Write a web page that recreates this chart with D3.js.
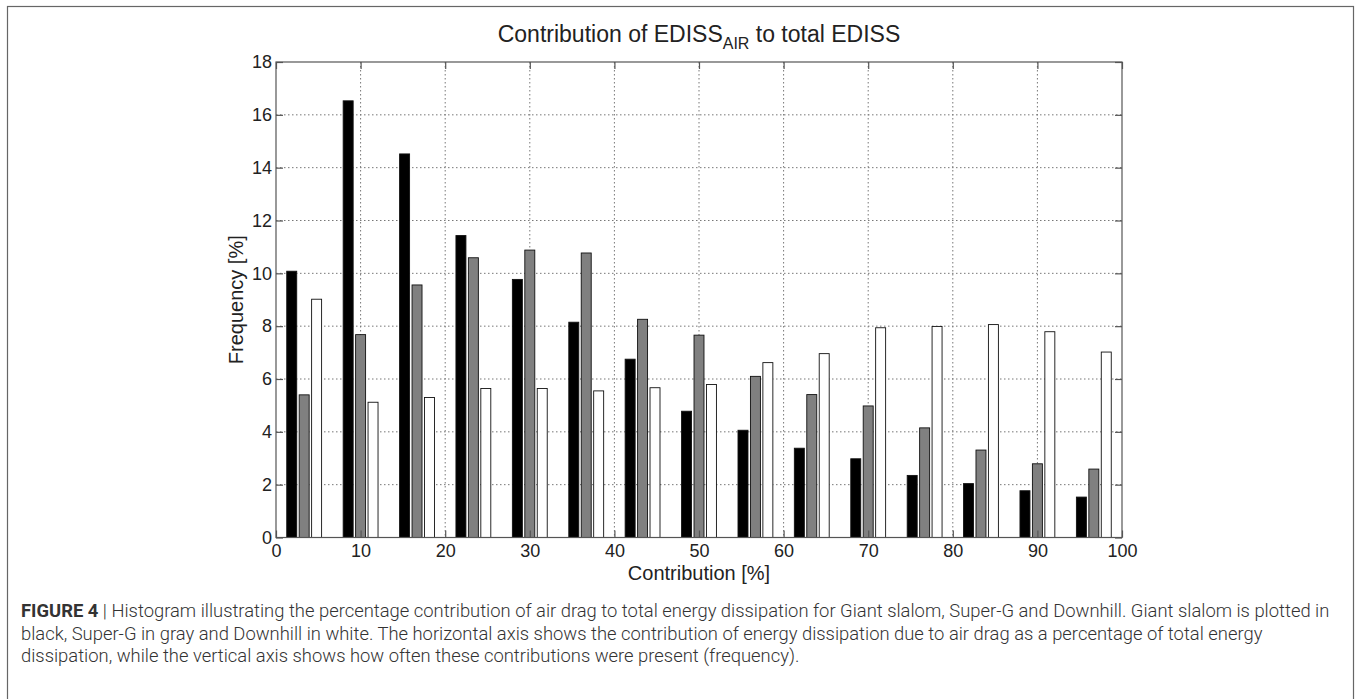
<!DOCTYPE html>
<html>
<head>
<meta charset="utf-8">
<script src="https://cdn.jsdelivr.net/npm/d3@7"></script>
<style>
    html, body { margin: 0; padding: 0; background: #fff; }
    svg { display: block; }
    .axis-text { font-family: "Liberation Sans", Arial, sans-serif; fill: #222; }
    .caption { font-family: Roboto, "Liberation Sans", sans-serif; font-weight: 300; fill: #333; font-size: 18.4px; }
</style>
</head>
<body>
<div id="chart"></div>
<script>
// Histogram: contribution of air drag to total energy dissipation
(function () {
    // ── Data ───────────────────────────────────────────────────────────────
    const binCenters = [3.33, 10, 16.67, 23.33, 30, 36.67, 43.33, 50, 56.67, 63.33, 70, 76.67, 83.33, 90, 96.67];
    const giantSlalom = [10.08, 16.53, 14.52, 11.43, 9.77, 8.15, 6.75, 4.78, 4.06, 3.38, 2.98, 2.35, 2.04, 1.77, 1.53];
    const superG      = [5.40, 7.68, 9.56, 10.59, 10.88, 10.77, 8.26, 7.66, 6.10, 5.41, 4.98, 4.15, 3.31, 2.79, 2.59];
    const downhill    = [9.02, 5.12, 5.30, 5.64, 5.64, 5.55, 5.67, 5.79, 6.62, 6.96, 7.94, 7.99, 8.06, 7.79, 7.02];
    const seriesNames = ["Giant slalom", "Super-G", "Downhill"];
    const xTicks = [0, 10, 20, 30, 40, 50, 60, 70, 80, 90, 100];
    const yTicks = [0, 2, 4, 6, 8, 10, 12, 14, 16, 18];
    const captionLines = [
        "Histogram illustrating the percentage contribution of air drag to total energy dissipation for Giant slalom, Super-G and Downhill. Giant slalom is plotted in",
        "black, Super-G in gray and Downhill in white. The horizontal axis shows the contribution of energy dissipation due to air drag as a percentage of total energy",
        "dissipation, while the vertical axis shows how often these contributions were present (frequency)."
    ];

    // ── Layout ─────────────────────────────────────────────────────────────
    const W = 1357, H = 699;
    const plot = { left: 276, right: 1122, top: 62, bottom: 537.5 };
    const fills = ["#000000", "#808080", "#ffffff"];
    const barOffset = 1.47, barWidth = 1.18;   // in data units

    const svg = d3.select("#chart").append("svg")
        .attr("width", W).attr("height", H);

    svg.append("rect").attr("width", W).attr("height", H).attr("fill", "#fff");

    // outer figure frame
    svg.append("rect")
        .attr("x", 7.5).attr("y", 6.5)
        .attr("width", 1346).attr("height", 720)
        .attr("fill", "none").attr("stroke", "#666").attr("stroke-width", 1.2);

    const x = d3.scaleLinear().domain([0, 100]).range([plot.left, plot.right]);
    const y = d3.scaleLinear().domain([0, 18]).range([plot.bottom, plot.top]);

    // ── Grid ───────────────────────────────────────────────────────────────
    const grid = svg.append("g").attr("stroke", "#777").attr("stroke-width", 1)
        .attr("stroke-dasharray", "1.5,2.5");
    grid.selectAll(".vg").data(xTicks.slice(1, -1)).join("line")
        .attr("x1", d => x(d)).attr("x2", d => x(d))
        .attr("y1", plot.top).attr("y2", plot.bottom);
    grid.selectAll(".hg").data(yTicks.slice(1, -1)).join("line")
        .attr("x1", plot.left).attr("x2", plot.right)
        .attr("y1", d => y(d)).attr("y2", d => y(d));

    // ── Bars ───────────────────────────────────────────────────────────────
    const series = [giantSlalom, superG, downhill];
    const barsG = svg.append("g");
    series.forEach((vals, s) => {
        barsG.selectAll(".bar-" + s)
            .data(vals.map((v, i) => ({ c: binCenters[i], v })))
            .join("rect")
            .attr("class", "bar-" + s)
            .attr("x", d => x(d.c + (s - 1) * barOffset - barWidth / 2))
            .attr("width", x(barWidth) - x(0))
            .attr("y", d => y(d.v))
            .attr("height", d => y(0) - y(d.v))
            .attr("fill", fills[s])
            .attr("stroke", "#111")
            .attr("stroke-width", 0.9)
            .append("title").text(d => `${seriesNames[s]}: ${d.v}%`);
    });

    // ── Axes (box with inward ticks) ───────────────────────────────────────
    const tickLen = 7;
    const axisG = svg.append("g").attr("stroke", "#555").attr("stroke-width", 1.2);
    axisG.append("rect")
        .attr("x", plot.left).attr("y", plot.top)
        .attr("width", plot.right - plot.left).attr("height", plot.bottom - plot.top)
        .attr("fill", "none");

    const xAxisB = d3.axisBottom(x).tickValues(xTicks).tickSizeInner(-tickLen).tickSizeOuter(0).tickPadding(7);
    const xAxisT = d3.axisTop(x).tickValues(xTicks).tickSizeInner(-tickLen).tickSizeOuter(0).tickFormat("");
    const yAxisL = d3.axisLeft(y).tickValues(yTicks).tickSizeInner(-tickLen).tickSizeOuter(0).tickPadding(4);
    const yAxisR = d3.axisRight(y).tickValues(yTicks).tickSizeInner(-tickLen).tickSizeOuter(0).tickFormat("");

    function styleAxis(g) {
        g.select(".domain").remove();
        g.selectAll(".tick line").attr("stroke", "#555").attr("stroke-width", 1.2);
        g.selectAll(".tick text")
            .attr("class", "axis-text")
            .attr("fill", "#222")
            .style("font-family", '"Liberation Sans", Arial, sans-serif')
            .style("font-size", "18px");
    }

    svg.append("g").attr("transform", `translate(0,${plot.bottom})`).call(xAxisB).call(styleAxis);
    svg.append("g").attr("transform", `translate(0,${plot.top})`).call(xAxisT).call(styleAxis);
    svg.append("g").attr("transform", `translate(${plot.left},0)`).call(yAxisL).call(styleAxis);
    svg.append("g").attr("transform", `translate(${plot.right},0)`).call(yAxisR).call(styleAxis);

    // ── Labels ─────────────────────────────────────────────────────────────
    const cx = (plot.left + plot.right) / 2;
    const title = svg.append("text").attr("class", "axis-text")
        .attr("x", cx).attr("y", 42)
        .attr("text-anchor", "middle").style("font-size", "23px");
    title.append("tspan").text("Contribution of EDISS");
    title.append("tspan").attr("dy", 7).style("font-size", "16px").text("AIR");
    title.append("tspan").attr("dy", -7).text(" to total EDISS");

    svg.append("text").attr("class", "axis-text")
        .attr("x", cx).attr("y", 580)
        .attr("text-anchor", "middle").style("font-size", "20px")
        .text("Contribution [%]");

    svg.append("text").attr("class", "axis-text")
        .attr("transform", `translate(243,${(plot.top + plot.bottom) / 2}) rotate(-90)`)
        .attr("text-anchor", "middle").style("font-size", "20px")
        .text("Frequency [%]");

    // ── Caption ────────────────────────────────────────────────────────────
    const cap = svg.append("g");
    captionLines.forEach((line, i) => {
        const t = cap.append("text").attr("class", "caption")
            .attr("x", 21).attr("y", 617 + i * 22.5);
        if (i === 0) {
            t.append("tspan").style("font-weight", 700).text("FIGURE 4");
            t.append("tspan").text(" | ");
        }
        t.append("tspan").text(line);
    });
})();
</script>
</body>
</html>
